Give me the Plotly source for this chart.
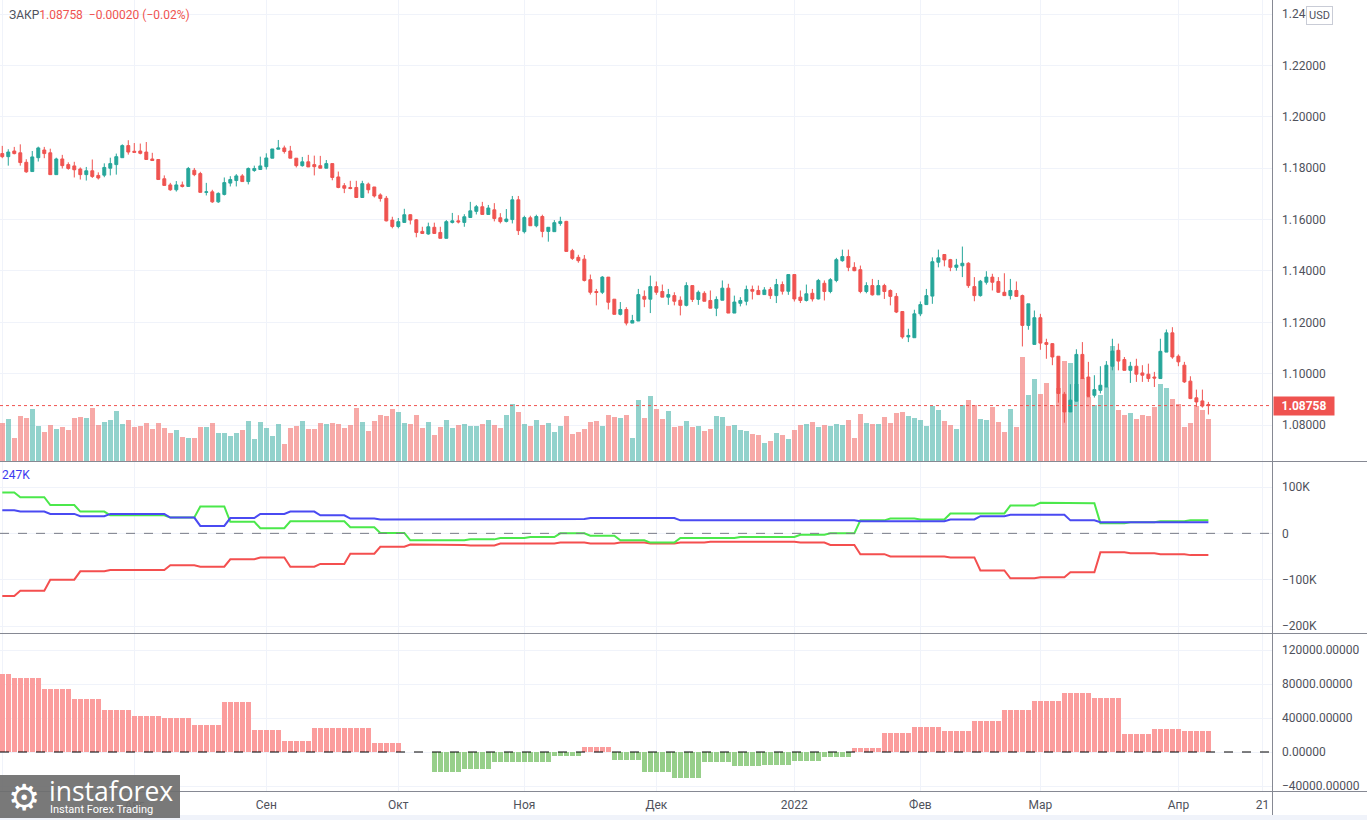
import numpy as np
import pandas as pd
import plotly.graph_objects as go

# ---------------- data ----------------
dates = pd.bdate_range("2021-07-01", "2022-04-08")

opens = [
    1.1857, 1.1845, 1.1867, 1.1860, 1.1823, 1.1787, 1.1841, 1.1871, 1.1860, 1.1775,
    1.1836, 1.1814, 1.1809, 1.1797, 1.1775, 1.1790, 1.1772, 1.1773, 1.1800, 1.1814,
    1.1841, 1.1888, 1.1866, 1.1867, 1.1863, 1.1836, 1.1834, 1.1759, 1.1735, 1.1716,
    1.1735, 1.1729, 1.1792, 1.1779, 1.1706, 1.1708, 1.1669, 1.1698, 1.1742, 1.1752,
    1.1770, 1.1748, 1.1791, 1.1795, 1.1806, 1.1839, 1.1874, 1.1879, 1.1867, 1.1839,
    1.1810, 1.1825, 1.1814, 1.1810, 1.1800, 1.1818, 1.1766, 1.1732, 1.1725, 1.1725,
    1.1686, 1.1738, 1.1727, 1.1696, 1.1683, 1.1598, 1.1573, 1.1589, 1.1619, 1.1599,
    1.1554, 1.1544, 1.1570, 1.1550, 1.1527, 1.1589, 1.1595, 1.1589, 1.1608, 1.1632,
    1.1650, 1.1620, 1.1638, 1.1607, 1.1593, 1.1600, 1.1677, 1.1553, 1.1607, 1.1576,
    1.1612, 1.1554, 1.1553, 1.1585, 1.1593, 1.1479, 1.1453, 1.1446, 1.1366, 1.1320,
    1.1317, 1.1376, 1.1290, 1.1231, 1.1250, 1.1197, 1.1205, 1.1301, 1.1290, 1.1339,
    1.1320, 1.1298, 1.1304, 1.1286, 1.1266, 1.1343, 1.1289, 1.1313, 1.1285, 1.1255,
    1.1286, 1.1333, 1.1236, 1.1274, 1.1282, 1.1328, 1.1324, 1.1308, 1.1328, 1.1304,
    1.1347, 1.1321, 1.1386, 1.1298, 1.1285, 1.1313, 1.1291, 1.1352, 1.1320, 1.1363,
    1.1440, 1.1456, 1.1414, 1.1405, 1.1320, 1.1343, 1.1307, 1.1343, 1.1324, 1.1301,
    1.1242, 1.1143, 1.1140, 1.1233, 1.1269, 1.1302, 1.1434, 1.1464, 1.1444, 1.1414,
    1.1420, 1.1430, 1.1339, 1.1304, 1.1356, 1.1376, 1.1359, 1.1317, 1.1304, 1.1324,
    1.1304, 1.1188, 1.1114, 1.1218, 1.1121, 1.1117, 1.1068, 1.0920, 1.0851, 1.0893,
    1.1075, 1.0987, 1.0916, 1.0935, 1.0948, 1.1029, 1.1091, 1.1055, 1.1013, 1.1029,
    1.1003, 1.0998, 1.0987, 1.0981, 1.1084, 1.1159, 1.1068, 1.1033, 1.0971, 1.0906,
    1.0894, 1.0880,
]
highs = [
    1.1887, 1.1874, 1.1883, 1.1893, 1.1835, 1.1867, 1.1884, 1.1883, 1.1876, 1.1841,
    1.1852, 1.1823, 1.1825, 1.1803, 1.1805, 1.1834, 1.1784, 1.1819, 1.1841, 1.1857,
    1.1893, 1.1909, 1.1898, 1.1896, 1.1902, 1.1860, 1.1834, 1.1772, 1.1743, 1.1750,
    1.1748, 1.1805, 1.1801, 1.1786, 1.1743, 1.1716, 1.1706, 1.1764, 1.1769, 1.1777,
    1.1777, 1.1803, 1.1810, 1.1845, 1.1858, 1.1875, 1.1910, 1.1888, 1.1887, 1.1839,
    1.1844, 1.1852, 1.1849, 1.1848, 1.1832, 1.1818, 1.1787, 1.1742, 1.1751, 1.1751,
    1.1751, 1.1744, 1.1727, 1.1702, 1.1692, 1.1611, 1.1606, 1.1642, 1.1621, 1.1602,
    1.1572, 1.1588, 1.1588, 1.1572, 1.1598, 1.1626, 1.1617, 1.1621, 1.1669, 1.1657,
    1.1669, 1.1657, 1.1664, 1.1625, 1.1641, 1.1692, 1.1692, 1.1615, 1.1615, 1.1619,
    1.1619, 1.1570, 1.1598, 1.1611, 1.1595, 1.1486, 1.1463, 1.1462, 1.1386, 1.1330,
    1.1380, 1.1376, 1.1290, 1.1279, 1.1259, 1.1229, 1.1330, 1.1324, 1.1382, 1.1359,
    1.1347, 1.1330, 1.1317, 1.1301, 1.1356, 1.1343, 1.1324, 1.1321, 1.1324, 1.1301,
    1.1363, 1.1350, 1.1304, 1.1298, 1.1343, 1.1343, 1.1343, 1.1337, 1.1337, 1.1369,
    1.1359, 1.1386, 1.1386, 1.1324, 1.1347, 1.1330, 1.1369, 1.1363, 1.1372, 1.1451,
    1.1483, 1.1483, 1.1434, 1.1421, 1.1356, 1.1369, 1.1365, 1.1350, 1.1328, 1.1314,
    1.1242, 1.1175, 1.1249, 1.1281, 1.1330, 1.1453, 1.1483, 1.1464, 1.1447, 1.1447,
    1.1495, 1.1434, 1.1376, 1.1365, 1.1399, 1.1389, 1.1376, 1.1391, 1.1369, 1.1359,
    1.1308, 1.1272, 1.1246, 1.1233, 1.1136, 1.1119, 1.1068, 1.0929, 1.0959, 1.1095,
    1.1123, 1.1046, 1.0994, 1.1029, 1.1049, 1.1136, 1.1117, 1.1065, 1.1046, 1.1058,
    1.1033, 1.1039, 1.1007, 1.1136, 1.1172, 1.1181, 1.1075, 1.1046, 1.0990, 1.0938,
    1.0938, 1.0890,
]
lows = [
    1.1839, 1.1810, 1.1854, 1.1810, 1.1782, 1.1787, 1.1826, 1.1839, 1.1775, 1.1775,
    1.1799, 1.1794, 1.1764, 1.1756, 1.1752, 1.1762, 1.1756, 1.1765, 1.1772, 1.1775,
    1.1841, 1.1853, 1.1862, 1.1854, 1.1834, 1.1830, 1.1756, 1.1733, 1.1712, 1.1709,
    1.1725, 1.1729, 1.1769, 1.1706, 1.1694, 1.1665, 1.1665, 1.1694, 1.1729, 1.1729,
    1.1748, 1.1737, 1.1786, 1.1795, 1.1795, 1.1839, 1.1874, 1.1857, 1.1839, 1.1803,
    1.1806, 1.1805, 1.1772, 1.1800, 1.1800, 1.1753, 1.1722, 1.1703, 1.1718, 1.1686,
    1.1686, 1.1702, 1.1686, 1.1670, 1.1593, 1.1566, 1.1566, 1.1589, 1.1581, 1.1531,
    1.1544, 1.1541, 1.1544, 1.1527, 1.1527, 1.1585, 1.1585, 1.1572, 1.1608, 1.1620,
    1.1620, 1.1620, 1.1593, 1.1585, 1.1589, 1.1585, 1.1540, 1.1546, 1.1576, 1.1570,
    1.1531, 1.1514, 1.1553, 1.1576, 1.1476, 1.1443, 1.1432, 1.1359, 1.1308, 1.1266,
    1.1310, 1.1250, 1.1231, 1.1227, 1.1188, 1.1197, 1.1205, 1.1259, 1.1236, 1.1307,
    1.1298, 1.1268, 1.1266, 1.1227, 1.1262, 1.1279, 1.1268, 1.1282, 1.1255, 1.1224,
    1.1286, 1.1236, 1.1236, 1.1262, 1.1266, 1.1289, 1.1308, 1.1308, 1.1291, 1.1275,
    1.1308, 1.1307, 1.1281, 1.1275, 1.1281, 1.1281, 1.1289, 1.1285, 1.1313, 1.1356,
    1.1436, 1.1399, 1.1399, 1.1313, 1.1313, 1.1304, 1.1307, 1.1291, 1.1266, 1.1236,
    1.1136, 1.1123, 1.1140, 1.1224, 1.1269, 1.1272, 1.1414, 1.1418, 1.1399, 1.1401,
    1.1376, 1.1334, 1.1282, 1.1300, 1.1347, 1.1324, 1.1315, 1.1304, 1.1289, 1.1301,
    1.1106, 1.1171, 1.1114, 1.1093, 1.1058, 1.1033, 1.0887, 1.0809, 1.0851, 1.0893,
    1.0981, 1.0910, 1.0907, 1.0923, 1.0948, 1.1013, 1.1013, 1.1013, 1.0964, 1.0968,
    1.0968, 1.0968, 1.0948, 1.0981, 1.1084, 1.1058, 1.1029, 1.0964, 1.0901, 1.0871,
    1.0868, 1.0841,
]
closes = [
    1.1845, 1.1863, 1.1857, 1.1822, 1.1786, 1.1844, 1.1879, 1.1857, 1.1775, 1.1836,
    1.1810, 1.1799, 1.1794, 1.1775, 1.1790, 1.1768, 1.1762, 1.1803, 1.1818, 1.1845,
    1.1888, 1.1863, 1.1862, 1.1858, 1.1834, 1.1830, 1.1756, 1.1733, 1.1716, 1.1735,
    1.1729, 1.1799, 1.1775, 1.1706, 1.1708, 1.1669, 1.1702, 1.1744, 1.1756, 1.1770,
    1.1748, 1.1799, 1.1799, 1.1809, 1.1840, 1.1875, 1.1879, 1.1865, 1.1839, 1.1810,
    1.1825, 1.1805, 1.1806, 1.1800, 1.1818, 1.1764, 1.1725, 1.1722, 1.1721, 1.1686,
    1.1740, 1.1716, 1.1692, 1.1682, 1.1595, 1.1573, 1.1592, 1.1619, 1.1598, 1.1550,
    1.1546, 1.1572, 1.1546, 1.1527, 1.1592, 1.1595, 1.1591, 1.1611, 1.1634, 1.1650,
    1.1620, 1.1645, 1.1604, 1.1592, 1.1602, 1.1677, 1.1557, 1.1608, 1.1576, 1.1612,
    1.1554, 1.1570, 1.1588, 1.1593, 1.1476, 1.1449, 1.1440, 1.1363, 1.1317, 1.1316,
    1.1376, 1.1278, 1.1231, 1.1250, 1.1197, 1.1207, 1.1308, 1.1290, 1.1339, 1.1317,
    1.1298, 1.1308, 1.1282, 1.1266, 1.1343, 1.1289, 1.1317, 1.1282, 1.1255, 1.1289,
    1.1333, 1.1236, 1.1279, 1.1285, 1.1328, 1.1321, 1.1308, 1.1326, 1.1304, 1.1347,
    1.1321, 1.1386, 1.1291, 1.1285, 1.1311, 1.1291, 1.1363, 1.1320, 1.1366, 1.1444,
    1.1456, 1.1414, 1.1401, 1.1320, 1.1343, 1.1307, 1.1343, 1.1320, 1.1301, 1.1240,
    1.1143, 1.1149, 1.1233, 1.1269, 1.1304, 1.1436, 1.1451, 1.1443, 1.1414, 1.1423,
    1.1430, 1.1343, 1.1304, 1.1360, 1.1376, 1.1356, 1.1317, 1.1304, 1.1324, 1.1301,
    1.1188, 1.1272, 1.1218, 1.1119, 1.1114, 1.1065, 1.0923, 1.0851, 1.0897, 1.1075,
    1.0981, 1.0910, 1.0938, 1.0955, 1.1033, 1.1088, 1.1049, 1.1013, 1.1029, 1.0998,
    1.0994, 1.0981, 1.0983, 1.1087, 1.1159, 1.1065, 1.1046, 1.0968, 1.0903, 1.0890,
    1.0874, 1.08758,
]
volumes = [
    115, 127, 70, 136, 130, 157, 106, 88, 109, 97,
    103, 94, 130, 133, 130, 160, 109, 118, 124, 151,
    112, 124, 103, 106, 115, 97, 115, 100, 85, 94,
    73, 70, 70, 103, 103, 115, 85, 85, 76, 85,
    94, 121, 67, 118, 100, 76, 112, 52, 100, 106,
    121, 96, 96, 114, 111, 114, 111, 99, 108, 159,
    117, 90, 120, 138, 135, 156, 147, 114, 111, 138,
    99, 117, 78, 102, 123, 99, 108, 111, 105, 105,
    111, 123, 108, 99, 138, 171, 147, 111, 105, 123,
    108, 114, 87, 105, 135, 81, 87, 96, 117, 120,
    105, 138, 132, 129, 138, 69, 183, 129, 195, 156,
    126, 150, 102, 105, 120, 102, 105, 90, 96, 135,
    132, 105, 108, 93, 90, 81, 78, 54, 60, 84,
    78, 66, 93, 108, 111, 117, 102, 108, 105, 111,
    108, 123, 69, 141, 114, 111, 111, 132, 114, 144,
    147, 135, 129, 123, 105, 165, 153, 120, 108, 96,
    168, 183, 168, 126, 123, 162, 117, 87, 156, 102,
    312, 198, 246, 201, 234, 168, 220, 300, 294, 230,
    248, 193, 168, 198, 223, 345, 153, 138, 144, 126,
    138, 135, 162, 231, 219, 186, 171, 102, 114, 165,
    153, 126,
]

# weekly COT values (thousands of contracts)
green_weekly = [88, 78, 61, 47, 39, 39, 34, 58, 25, 11, 26, 26, 13, 1,
                -15, -15, -13, -10, -8, 0, -5, -15, -20, -10, -10, -8, -8, -3, 0,
                28, 32, 30, 43, 43, 60, 66, 65, 22, 24, 26, 28]
blue_weekly = [50, 47, 42, 37, 42, 42, 34, 16, 33, 42, 47, 39, 32, 30,
               30, 30, 30, 30, 31, 31, 33, 33, 33, 28, 28, 28, 28, 28, 28,
               26, 26, 26, 30, 37, 40, 40, 28, 24, 24, 24, 24]
red_weekly = [-135, -124, -100, -82, -79, -79, -69, -72, -56, -52, -72, -66, -44, -29,
              -24, -25, -26, -22, -22, -20, -22, -20, -22, -20, -18, -18, -18, -20, -25,
              -45, -50, -50, -52, -80, -97, -95, -84, -41, -43, -45, -47]
hist_weekly = [91.3, 86.6, 73.7, 61.9, 49, 42, 39.6, 31.4, 58.4, 25.5, 12.5, 27.8, 27.8, 10.2,
               0, -23.5, -20, -11.8, -11.8, -4.7, 5.5, -9.4, -23.5, -30.6, -11.8, -16.5, -15.3,
               -10.6, -5.9, 4.3, 22, 29, 24.3, 36, 49, 59.6, 69, 63, 20.8, 26.7, 24.3]

month_dates = ["2021-07-01", "2021-08-02", "2021-09-01", "2021-10-01", "2021-11-01",
               "2021-12-01", "2022-01-03", "2022-02-01", "2022-03-01", "2022-04-01",
               "2022-04-21"]
month_labels = ["Июл", "Авг", "Сен", "Окт", "Ноя", "Дек", "2022", "Фев", "Мар", "Апр", "21"]

price_ticks = [1.08, 1.10, 1.12, 1.14, 1.16, 1.18, 1.20, 1.22, 1.24]
cot_ticks = [-200000, -100000, 0, 100000]
cot_labels = ["\u2212200K", "\u2212100K", "0", "100K"]
hist_ticks = [-40000, 0, 40000, 80000, 120000]
hist_labels = ["\u221240000.00000", "0.00000", "40000.00000", "80000.00000", "120000.00000"]

last_price = 1.08758

# ---------------- derived ----------------
W, H = 1367, 820
n = len(dates)
x = np.arange(n)
calendar = pd.bdate_range("2021-07-01", "2022-05-31")
tickvals = list(calendar.get_indexer(pd.to_datetime(month_dates)))

line_counts = [3] + [5] * 39 + [4]
hist_counts = [2] + [5] * 40
green_d = np.repeat(np.array(green_weekly) * 1000.0, line_counts)
blue_d = np.repeat(np.array(blue_weekly) * 1000.0, line_counts)
red_d = np.repeat(np.array(red_weekly) * 1000.0, line_counts)
hist_d = np.repeat(np.array(hist_weekly) * 1000.0, hist_counts)

UP, DN = "#26a69a", "#ef5350"
up_mask = np.array(closes) >= np.array(opens)
vol_colors = ["rgba(38,166,154,0.5)" if u else "rgba(239,83,80,0.5)" for u in up_mask]
hist_colors = ["#fb9d9d" if v >= 0 else "#97cf8a" for v in hist_d]

def py(px):
    return 1 - px / H

XR = 1272 / W
GRID = "#f0f3fa"
TXT = "#4f525c"
FONT = "Roboto"

fig = go.Figure()

fig.add_trace(go.Bar(x=x, y=volumes, xaxis="x", yaxis="y4", marker=dict(color=vol_colors, line=dict(width=0)),
                     width=0.78, hoverinfo="skip", showlegend=False))
fig.add_trace(go.Candlestick(x=x, open=opens, high=highs, low=lows, close=closes,
                             xaxis="x", yaxis="y",
                             increasing=dict(line=dict(color=UP, width=1), fillcolor=UP),
                             decreasing=dict(line=dict(color=DN, width=1), fillcolor=DN),
                             whiskerwidth=0, hoverinfo="skip", showlegend=False))

for arr, col in [(red_d, "#f44f4f"), (green_d, "#4be84b"), (blue_d, "#4a4af2")]:
    fig.add_trace(go.Scatter(x=x, y=arr, xaxis="x2", yaxis="y2", mode="lines",
                             line=dict(color=col, width=2), hoverinfo="skip", showlegend=False))

fig.add_trace(go.Bar(x=x, y=hist_d, xaxis="x3", yaxis="y3", marker=dict(color=hist_colors, line=dict(width=0)),
                     width=0.8, hoverinfo="skip", showlegend=False))

xcommon = dict(range=[-0.38, 211.6], tickvals=tickvals, ticktext=month_labels, showgrid=True,
               gridcolor=GRID, gridwidth=1, zeroline=False, showline=False, ticks="",
               domain=[0, XR], automargin=False, fixedrange=True)
ycommon = dict(side="right", showgrid=True, gridcolor=GRID, zeroline=False, showline=False,
               ticks="", automargin=False, tickfont=dict(family=FONT, size=12, color=TXT),
               ticklabelstandoff=9, fixedrange=True)

fig.update_layout(
    width=W, height=H, margin=dict(l=0, r=0, t=0, b=0),
    paper_bgcolor="white", plot_bgcolor="white",
    font=dict(family=FONT, size=12, color=TXT),
    showlegend=False, bargap=0, boxgap=0.3, hovermode=False,
    xaxis=dict(xcommon, anchor="y", showticklabels=False, rangeslider=dict(visible=False)),
    xaxis2=dict(xcommon, anchor="y2", matches="x", showticklabels=False),
    xaxis3=dict(xcommon, anchor="y3", matches="x", showticklabels=True,
                tickfont=dict(family=FONT, size=12, color=TXT), ticklabelstandoff=4),
    yaxis=dict(ycommon, domain=[py(461), 1], anchor="x", range=[1.066, 1.2455],
               tickvals=price_ticks, tickformat=".5f"),
    yaxis4=dict(overlaying="y", range=[0, 1383], visible=False, fixedrange=True),
    yaxis2=dict(ycommon, domain=[py(633), py(462)], anchor="x2", range=[-215100, 154000],
                tickvals=cot_ticks, ticktext=cot_labels),
    yaxis3=dict(ycommon, domain=[py(792), py(634)], anchor="x3", range=[-47060, 138820],
                tickvals=hist_ticks, ticktext=hist_labels),
)

shapes = []
for yy in [461.5, 633.5, 791.5]:
    shapes.append(dict(type="line", xref="paper", yref="paper", x0=0, x1=1, y0=py(yy), y1=py(yy),
                       line=dict(color="#868993", width=1)))
shapes.append(dict(type="line", xref="paper", yref="paper", x0=1272.5 / W, x1=1272.5 / W, y0=py(0), y1=py(815),
                   line=dict(color="#868993", width=1)))
shapes.append(dict(type="rect", xref="paper", yref="paper", x0=0, x1=1, y0=0, y1=py(815),
                   fillcolor="#f0f3fa", line=dict(width=0), layer="below"))
shapes.append(dict(type="line", xref="paper", yref="y", x0=0, x1=XR, y0=last_price, y1=last_price,
                   line=dict(color=DN, width=1, dash="dot")))
shapes.append(dict(type="line", xref="paper", yref="y2", x0=0, x1=XR, y0=0, y1=0,
                   line=dict(color="#787b86", width=1, dash="dash")))
shapes.append(dict(type="line", xref="paper", yref="y3", x0=0, x1=XR, y0=0, y1=0,
                   line=dict(color="#000000", width=1, dash="dash")))
shapes.append(dict(type="rect", xref="paper", yref="paper", x0=0, x1=180 / W, y0=py(818), y1=py(775),
                   fillcolor="rgba(110,110,110,0.92)", line=dict(width=0), layer="above"))
fig.update_layout(shapes=shapes)

ann = []
ann.append(dict(xref="paper", yref="paper", x=7 / W, y=py(15), xanchor="left", yanchor="middle",
                showarrow=False,
                text="<span style='color:#4f525c'>ЗАКР</span><span style='color:#ef5350'>1.08758&nbsp;&nbsp;\u22120.00020 (\u22120.02%)</span>",
                font=dict(family=FONT, size=12)))
ann.append(dict(xref="paper", yref="paper", x=0, y=py(475), xanchor="left", yanchor="middle",
                showarrow=False, text="247K", font=dict(family=FONT, size=12, color="#3b3bf0")))
ann.append(dict(xref="paper", yref="paper", x=1319 / W, y=py(15), xanchor="center", yanchor="middle",
                showarrow=False, text="USD", font=dict(family=FONT, size=11, color=TXT),
                bgcolor="white", bordercolor="#c9ccd6", borderwidth=1, borderpad=2))
ann.append(dict(xref="paper", yref="y", x=1272.5 / W, y=last_price, xanchor="left", yanchor="middle",
                showarrow=False, text="<b>1.08758</b>", font=dict(family=FONT, size=12, color="white"),
                bgcolor=DN, borderpad=2, width=56))
ann.append(dict(xref="paper", yref="paper", x=24 / W, y=py(797), xanchor="center", yanchor="middle",
                showarrow=False, text="\u2699", font=dict(family="DejaVu Sans", size=36, color="white")))
ann.append(dict(xref="paper", yref="paper", x=47 / W, y=py(791), xanchor="left", yanchor="middle",
                showarrow=False, text="instaforex", font=dict(family="Open Sans", size=26.5, color="white")))
ann.append(dict(xref="paper", yref="paper", x=48 / W, y=py(809), xanchor="left", yanchor="middle",
                showarrow=False, text="Instant Forex Trading", font=dict(family="Roboto", size=11, color="white")))
fig.update_layout(annotations=ann)

fig.write_html("out.html",
               config={"displayModeBar": False, "staticPlot": True},
               post_script="document.body.style.margin='0px';document.body.style.padding='0px';document.body.style.overflow='hidden';")
